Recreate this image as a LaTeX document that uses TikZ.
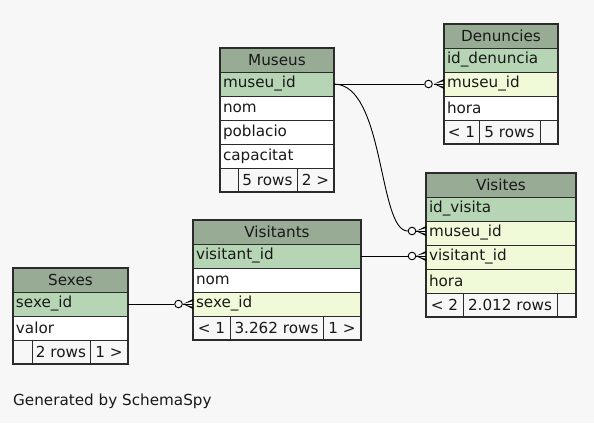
\documentclass[tikz,border=0pt]{standalone}
\usepackage{fontspec}
\setmainfont{DejaVu Sans}
\definecolor{bg}{HTML}{F7F7F7}
\definecolor{hdr}{HTML}{97AB95}
\definecolor{pkc}{HTML}{B6D5B5}
\definecolor{fkc}{HTML}{F1FAD8}
\definecolor{ln}{HTML}{2B2B2B}
\begin{document}
\begin{tikzpicture}[x=1pt,y=-1pt,
  font=\fontsize{15.2}{17}\selectfont,
  cell/.style={draw=ln, line width=0.8pt, anchor=north west, minimum height=24pt,
    inner ysep=0pt, inner xsep=3pt, outer sep=0pt, text=black!90},
  hd/.style={cell, fill=hdr, align=center},
  pkrow/.style={cell, fill=pkc, align=left},
  fkrow/.style={cell, fill=fkc, align=left},
  plainrow/.style={cell, fill=white, align=left},
  ft/.style={cell, inner xsep=0pt, align=center},
  wa/.style={minimum width=114pt, text width=108pt},
  wb/.style={minimum width=150pt, text width=144pt},
  wc/.style={minimum width=168pt, text width=162pt},
  wd/.style={minimum width=115pt, text width=109pt},
  frame/.style={draw=ln, line width=1.1pt},
  edge/.style={draw=black, line width=0.9pt},
  odot/.style={circle, draw=black, line width=0.9pt, fill=bg, minimum size=7.6pt, inner sep=0pt},
  crow/.pic={
    \fill[black] (-10,0) -- (0,-5) -- (0,-3) -- cycle;
    \fill[black] (-10,0) -- (0,5) -- (0,3) -- cycle;
    \draw[black, line width=0.9pt] (-10,0) -- (0,0);
  }
]
\path[use as bounding box, fill=bg] (0,0) rectangle (594,423);

% Museus
\node[hd, wa] (mus) at (220,48) {Museus};
\node[pkrow, wa] (mus-id) at (220,72) {museu\_id};
\node[plainrow, wa] (mus-nom) at (220,96) {nom};
\node[plainrow, wa] (mus-pob) at (220,120) {poblacio};
\node[plainrow, wa] (mus-cap) at (220,144) {capacitat};
\node[ft, minimum width=18pt] (mus-f1) at (220,168) {};
\node[ft, minimum width=59pt] (mus-f2) at (238,168) {5 rows};
\node[ft, minimum width=37pt] (mus-f3) at (297,168) {2 >};
\draw[frame] (mus.north west) rectangle (mus-f3.south east);

% Denuncies
\node[hd, wa] (den) at (444,24) {Denuncies};
\node[pkrow, wa] (den-id) at (444,48) {id\_denuncia};
\node[fkrow, wa] (den-mid) at (444,72) {museu\_id};
\node[plainrow, wa] (den-hora) at (444,96) {hora};
\node[ft, minimum width=35pt] (den-f1) at (444,120) {< 1};
\node[ft, minimum width=61pt] (den-f2) at (479,120) {5 rows};
\node[ft, minimum width=18pt] (den-f3) at (540,120) {};
\draw[frame] (den.north west) rectangle (den-f3.south east);

% Visites
\node[hd, wb] (vis) at (426,173) {Visites};
\node[pkrow, wb] (vis-id) at (426,197) {id\_visita};
\node[fkrow, wb] (vis-mid) at (426,221) {museu\_id};
\node[fkrow, wb] (vis-vid) at (426,245) {visitant\_id};
\node[fkrow, wb] (vis-hora) at (426,269) {hora};
\node[ft, minimum width=37pt] (vis-f1) at (426,293) {< 2};
\node[ft, minimum width=94pt] (vis-f2) at (463,293) {2.012 rows};
\node[ft, minimum width=19pt] (vis-f3) at (557,293) {};
\draw[frame] (vis.north west) rectangle (vis-f3.south east);

% Visitants
\node[hd, wc] (vst) at (193,220) {Visitants};
\node[pkrow, wc] (vst-id) at (193,244) {visitant\_id};
\node[plainrow, wc] (vst-nom) at (193,268) {nom};
\node[fkrow, wc] (vst-sid) at (193,292) {sexe\_id};
\node[ft, minimum width=37pt] (vst-f1) at (193,316) {< 1};
\node[ft, minimum width=93pt] (vst-f2) at (230,316) {3.262 rows};
\node[ft, minimum width=38pt] (vst-f3) at (323,316) {1 >};
\draw[frame] (vst.north west) rectangle (vst-f3.south east);

% Sexes
\node[hd, wd] (sex) at (13,268) {Sexes};
\node[pkrow, wd] (sex-id) at (13,292) {sexe\_id};
\node[plainrow, wd] (sex-val) at (13,316) {valor};
\node[ft, minimum width=19pt] (sex-f1) at (13,340) {};
\node[ft, minimum width=58pt] (sex-f2) at (32,340) {2 rows};
\node[ft, minimum width=38pt] (sex-f3) at (90,340) {1 >};
\draw[frame] (sex.north west) rectangle (sex-f3.south east);

% connector end points
\coordinate (e1) at ([yshift=0pt]den-mid.west);
\coordinate (e2) at ([yshift=2pt]vis-mid.west);
\coordinate (e3) at ([yshift=1pt]vis-vid.west);
\coordinate (e4) at (vst-sid.west);
\coordinate (k1) at (385,84.5);
\coordinate (k2x) at (378,0);

% Museus -> Denuncies
\node[odot] (c1) at ([xshift=-15.5pt]e1) {};
\draw[edge] (mus-id.east) -- (c1.west);
\pic at (e1) {crow};
% Museus -> Visites
\node[odot] (c2) at ([xshift=-14pt]e2) {};
\draw[edge] (mus-id.east) .. controls (k1) and (k2x |- c2.west) .. (c2.west);
\pic at (e2) {crow};
% Visitants -> Visites
\node[odot] (c3) at ([xshift=-14pt]e3) {};
\draw[edge] (vst-id.east) -- (vst-id.east -| c3.west);
\pic at (e3) {crow};
% Sexes -> Visitants
\node[odot] (c4) at ([xshift=-14.5pt]e4) {};
\draw[edge] (sex-id.east) -- (c4.west);
\pic at (e4) {crow};

\node[anchor=base west, inner sep=0pt, text=black!90] (gen) at (13,405) {Generated by SchemaSpy};
\end{tikzpicture}
\end{document}
